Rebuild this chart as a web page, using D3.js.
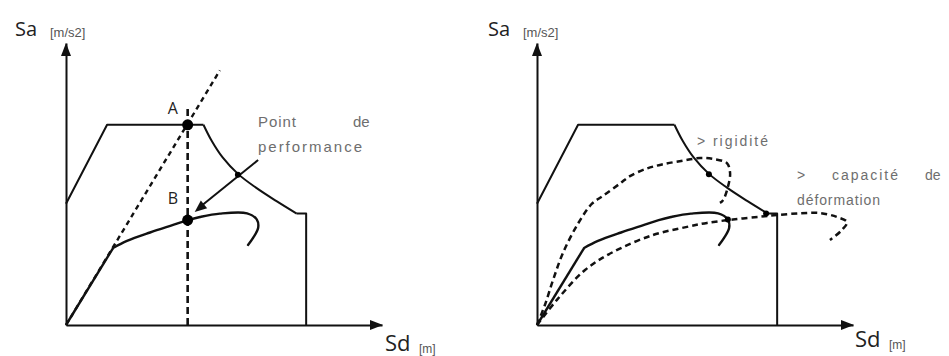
<!DOCTYPE html>
<html>
<head>
<meta charset="utf-8">
<script src="https://cdn.jsdelivr.net/npm/d3@7"></script>
<style>
  html, body { margin: 0; padding: 0; background: #fff; }
  svg { display: block; }
  .axis-title { font-family: "Open Sans", "DejaVu Sans", sans-serif; fill: #222; }
  .unit { font-family: "Liberation Sans", Arial, sans-serif; fill: #555; }
  .note { font-family: "Liberation Sans", Arial, sans-serif; fill: #6e6e6e; }
</style>
</head>
<body>
<svg id="chart" width="949" height="356"></svg>
<script>
// Acceleration-displacement (ADRS) plane, both axes in arbitrary units 0..10
const sdDomain = [0, 10];
const saDomain = [0, 10];

// Demand spectrum: rising branch, plateau, constant-velocity branch, cut-off
const spectrumSd = [0, 1.3, 4.35, 4.6, 4.95, 5.45, 6.0, 6.65, 7.3, 7.6, 7.6];
const spectrumSa = [4.3, 7.1, 7.1, 6.55, 5.95, 5.35, 4.88, 4.4, 3.95, 3.95, 0];

// Reference capacity curve (pushover), with its final drop
const capacitySd = [0, 1.49, 1.93, 2.66, 3.39, 3.85, 4.24, 4.87, 5.73, 6.04, 6.08, 5.92, 5.76];
const capacitySa = [0, 2.73, 2.98, 3.28, 3.55, 3.72, 3.83, 3.95, 3.96, 3.74, 3.44, 3.09, 2.84];

// Elastic (initial stiffness) line
const elasticSd = [0, 4.87];
const elasticSa = [0, 9.03];

// Performance point: A on the elastic demand, B on the capacity curve
const perfSd = 3.85;
const pointASa = 7.1;
const pointBSa = 3.72;
const perfLineTopSa = 7.75;

// Stiffer structure variant
const stiffSd = [0, 0.25, 0.51, 0.82, 1.30, 1.74, 2.09, 2.63, 2.94, 3.48, 3.99, 4.62, 5.16, 5.57, 6.01, 6.11, 6.04, 5.89, 5.79];
const stiffSa = [0, 0.71, 1.60, 2.55, 3.60, 4.30, 4.58, 5.02, 5.28, 5.55, 5.70, 5.83, 5.92, 5.89, 5.74, 5.39, 4.89, 4.43, 4.33];

// More ductile structure variant
const ductileSd = [0, 0.63, 1.52, 2.41, 3.67, 4.75, 5.38, 6.20, 7.06, 7.59, 8.32, 8.96, 9.49, 9.81, 9.65, 9.27];
const ductileSa = [0, 0.89, 1.95, 2.59, 3.19, 3.48, 3.62, 3.74, 3.84, 3.90, 3.96, 3.97, 3.83, 3.65, 3.37, 3.01];

// Intersections marked on the right panel
const markSd = [5.44, 6.04, 7.25];
const markSa = [5.35, 3.74, 3.95];

const axisTitles = { y: "Sa", yUnit: "[m/s2]", x: "Sd", xUnit: "[m]" };

const zip = (xs, ys) => xs.map((v, i) => [v, ys[i]]);

const svg = d3.select("#chart");
const plotW = 316, plotH = 282;
const x = d3.scaleLinear().domain(sdDomain).range([0, plotW]);
const y = d3.scaleLinear().domain(saDomain).range([plotH, 0]);

const lineLinear = d3.line().x(d => x(d[0])).y(d => y(d[1]));
const lineSmooth = d3.line().x(d => x(d[0])).y(d => y(d[1])).curve(d3.curveCatmullRom.alpha(0.5));

function drawFrame(g, yTitleX, xTitle) {
  // axes drawn with d3 axes (no ticks), arrowheads at the ends
  const ax = g.append("g").attr("transform", `translate(0,${y(0)})`)
    .call(d3.axisBottom(x).tickValues([]).tickSizeOuter(0));
  const ay = g.append("g").attr("transform", `translate(${x(0)},0)`)
    .call(d3.axisLeft(y).tickValues([]).tickSizeOuter(0));
  [ax, ay].forEach(a => a.select(".domain").attr("stroke", "#111").attr("stroke-width", 2));

  const tipX = x(sdDomain[1]) + 1, tipY = y(saDomain[1]);
  g.append("path")
    .attr("d", `M${tipX},${y(0)} L${tipX - 13},${y(0) - 5} L${tipX - 13},${y(0) + 5} Z`)
    .attr("fill", "#111");
  g.append("path")
    .attr("d", `M${x(0)},${tipY} L${x(0) - 5},${tipY + 13} L${x(0) + 5},${tipY + 13} Z`)
    .attr("fill", "#111");

  // axis titles
  g.append("text").attr("class", "axis-title")
    .attr("x", yTitleX).attr("y", -7).attr("font-size", 20)
    .text(axisTitles.y);
  g.append("text").attr("class", "unit")
    .attr("x", yTitleX + 35).attr("y", -6).attr("font-size", 13)
    .text(axisTitles.yUnit);

  g.append("text").attr("class", "axis-title")
    .attr("x", xTitle.x).attr("y", xTitle.y).attr("font-size", 22)
    .text(axisTitles.x);
  g.append("text").attr("class", "unit")
    .attr("x", xTitle.x + 34).attr("y", xTitle.y + 2).attr("font-size", 12)
    .text(axisTitles.xUnit);
}

function drawSpectrum(g) {
  const pts = zip(spectrumSd, spectrumSa);
  const style = p => p.attr("fill", "none").attr("stroke", "#111").attr("stroke-width", 2)
    .attr("stroke-linejoin", "round");
  g.append("path").attr("d", lineLinear(pts.slice(0, 3))).call(style);
  g.append("path").attr("d", lineSmooth(pts.slice(2, 9))).call(style);
  g.append("path").attr("d", lineLinear(pts.slice(8))).call(style);
}

function drawCapacity(g) {
  const pts = zip(capacitySd, capacitySa);
  g.append("path").attr("d", lineLinear(pts.slice(0, 2)))
    .attr("fill", "none").attr("stroke", "#111").attr("stroke-width", 2.4);
  g.append("path").attr("d", lineSmooth(pts.slice(1)))
    .attr("fill", "none").attr("stroke", "#111").attr("stroke-width", 2.4)
    .attr("stroke-linecap", "round");
}

// small helper for spaced-out annotation text
function note(g, tx, ty, str, size, len) {
  const t = g.append("text").attr("class", "note").attr("font-size", size)
    .attr("x", tx).attr("y", ty).text(str);
  if (len) t.attr("textLength", len).attr("lengthAdjust", "spacing");
  return t;
}

// ---------- left panel: locating the performance point ----------
const left = svg.append("g").attr("transform", "translate(66,43)");
drawFrame(left, -51, { x: 319, y: 308 });
drawSpectrum(left);

left.append("path")
  .attr("d", lineLinear(zip(elasticSd, elasticSa)))
  .attr("fill", "none").attr("stroke", "#111").attr("stroke-width", 2.4)
  .attr("stroke-dasharray", "5,4");

left.append("path")
  .attr("d", lineLinear([[perfSd, 0], [perfSd, perfLineTopSa]]))
  .attr("fill", "none").attr("stroke", "#111").attr("stroke-width", 2.6)
  .attr("stroke-dasharray", "7,4");

drawCapacity(left);

left.append("circle").attr("cx", x(perfSd)).attr("cy", y(pointASa)).attr("r", 5.5).attr("fill", "#000");
left.append("circle").attr("cx", x(perfSd)).attr("cy", y(pointBSa)).attr("r", 5.5).attr("fill", "#000");
left.append("text").attr("class", "axis-title").attr("font-size", 16)
  .attr("x", x(perfSd) - 20).attr("y", y(pointASa) - 11).text("A");
left.append("text").attr("class", "axis-title").attr("font-size", 16)
  .attr("x", x(perfSd) - 20).attr("y", y(pointBSa) - 16).text("B");

// leader from the annotation to B, crossing the spectrum
const leaderFrom = [6.08, 5.85], leaderTo = [4.2, 4.15];
left.append("path")
  .attr("d", lineLinear([leaderFrom, leaderTo]))
  .attr("stroke", "#111").attr("stroke-width", 2).attr("fill", "none");
{
  const x0 = x(leaderFrom[0]), y0 = y(leaderFrom[1]);
  const x1 = x(leaderTo[0]) - 4, y1 = y(leaderTo[1]) + 4;
  const ang = Math.atan2(y1 - y0, x1 - x0);
  const L = 12, W = 5;
  const bx = x1 - L * Math.cos(ang), by = y1 - L * Math.sin(ang);
  left.append("path")
    .attr("d", `M${x1},${y1} L${bx + W * Math.sin(ang)},${by - W * Math.cos(ang)} L${bx - W * Math.sin(ang)},${by + W * Math.cos(ang)} Z`)
    .attr("fill", "#111");
}
left.append("circle").attr("cx", x(5.44)).attr("cy", y(5.33)).attr("r", 3).attr("fill", "#000");

note(left, 192, 84, "Point", 15, 38);
note(left, 287, 84, "de", 15);
note(left, 192, 109, "performance", 15, 104);

// ---------- right panel: stiffness vs deformation capacity ----------
const right = svg.append("g").attr("transform", "translate(537,43)");
drawFrame(right, -49, { x: 318, y: 304 });
drawSpectrum(right);
drawCapacity(right);

right.append("path")
  .attr("d", lineSmooth(zip(stiffSd, stiffSa)))
  .attr("fill", "none").attr("stroke", "#111").attr("stroke-width", 2.5)
  .attr("stroke-dasharray", "6,4");
right.append("path")
  .attr("d", lineSmooth(zip(ductileSd, ductileSa)))
  .attr("fill", "none").attr("stroke", "#111").attr("stroke-width", 2.5)
  .attr("stroke-dasharray", "6,4");

right.selectAll("circle.mark")
  .data(zip(markSd, markSa))
  .join("circle").attr("class", "mark")
  .attr("cx", d => x(d[0])).attr("cy", d => y(d[1])).attr("r", 3).attr("fill", "#000");

note(right, 160, 103, "> rigidité", 14, 71);
note(right, 260, 137, ">", 14);
note(right, 295, 137, "capacité", 14, 66);
note(right, 388, 137, "de", 14);
note(right, 260, 162, "déformation", 14, 83);
</script>
</body>
</html>
